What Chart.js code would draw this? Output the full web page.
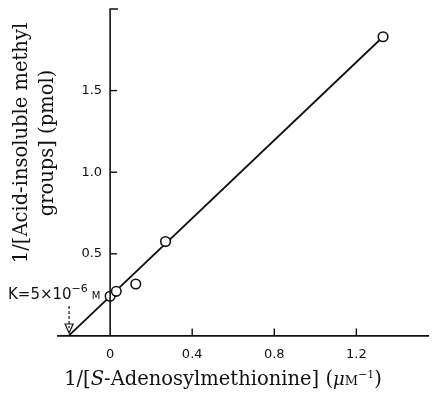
<!DOCTYPE html>
<html>
<head>
<meta charset="utf-8">
<script src="https://cdn.jsdelivr.net/npm/chart.js@4.4.1/dist/chart.umd.min.js"></script>
<style>
  html, body { margin: 0; padding: 0; background: #fff; }
  #wrap { width: 435px; height: 393px; }
</style>
</head>
<body>
<div id="wrap"><canvas id="plot"></canvas></div>
<script>
// 1/[S] (uM^-1) against 1/v (pmol^-1)
const samInv = [0, 0.03, 0.125, 0.27, 1.33];
const methylInv = [0.24, 0.27, 0.315, 0.575, 1.83];

// fitted line, crossing the x axis at -1/K
const fitX = [-0.2, 1.33];
const fitY = [0, 1.83];

const xTicks = [0, 0.4, 0.8, 1.2];
const xTickLabels = ['0', '0.4', '0.8', '1.2'];
const yTicks = [0.5, 1.0, 1.5];
const yTickLabels = ['0.5', '1.0', '1.5'];

const tickFont = '13px "DejaVu Sans"';
const serif = '"DejaVu Serif", "Liberation Serif", serif';

// draw a run of [text, font, dy] pieces starting at x
function drawRuns(ctx, runs, x, y) {
    runs.forEach(r => {
        ctx.font = r[1];
        ctx.fillText(r[0], x, y + (r[2] || 0));
        x += ctx.measureText(r[0]).width;
    });
}

function runsWidth(ctx, runs) {
    let w = 0;
    runs.forEach(r => {
        ctx.font = r[1];
        w += ctx.measureText(r[0]).width;
    });
    return w;
}

const axesPlugin = {
    id: 'axesPlugin',
    afterDraw(chart) {
        const ctx = chart.ctx;
        const xs = chart.scales.x;
        const ys = chart.scales.y;
        const x0 = xs.getPixelForValue(0);
        const yTop = ys.getPixelForValue(ys.max);
        const yBot = ys.getPixelForValue(0);

        ctx.save();
        ctx.strokeStyle = '#111';
        ctx.fillStyle = '#111';

        // y axis line at x = 0
        ctx.lineWidth = 1.6;
        ctx.beginPath();
        ctx.moveTo(x0, yBot);
        ctx.lineTo(x0, yTop);
        ctx.lineTo(x0 + 8, yTop);
        ctx.stroke();

        // inward ticks
        ctx.lineWidth = 1.4;
        yTicks.forEach(v => {
            const py = ys.getPixelForValue(v);
            ctx.beginPath();
            ctx.moveTo(x0, py);
            ctx.lineTo(x0 + 7, py);
            ctx.stroke();
        });
        xTicks.forEach(v => {
            if (v === 0) return;
            const px = xs.getPixelForValue(v);
            ctx.beginPath();
            ctx.moveTo(px, yBot);
            ctx.lineTo(px, yBot - 7);
            ctx.stroke();
        });

        // y tick labels
        ctx.font = tickFont;
        ctx.textAlign = 'right';
        ctx.textBaseline = 'middle';
        yTicks.forEach((v, i) => {
            ctx.fillText(yTickLabels[i], x0 - 8, ys.getPixelForValue(v));
        });

        // K annotation and arrow at -1/K
        ctx.textAlign = 'left';
        ctx.textBaseline = 'alphabetic';
        drawRuns(ctx, [
            ['K=5×10', '15px "DejaVu Sans"'],
            ['−6', '11px "DejaVu Sans"', -7],
            ['  ', '6px "DejaVu Sans"'],
            ['M', '10px "DejaVu Sans"']
        ], 8, 299);

        const ax = xs.getPixelForValue(fitX[0]);
        ctx.lineWidth = 1.2;
        ctx.setLineDash([3, 2]);
        ctx.beginPath();
        ctx.moveTo(ax, 306);
        ctx.lineTo(ax, 328);
        ctx.stroke();
        ctx.setLineDash([]);
        ctx.beginPath();
        ctx.moveTo(ax - 4, 324);
        ctx.lineTo(ax, 333);
        ctx.lineTo(ax + 4, 324);
        ctx.closePath();
        ctx.stroke();

        // x axis title
        const xRuns = [
            ['1/[', '19.5px ' + serif],
            ['S', 'italic 19.5px ' + serif],
            ['-Adenosylmethionine] (', '19.5px ' + serif],
            ['μ', 'italic 18px ' + serif],
            ['M', '13px ' + serif],
            ['−1', '11px ' + serif, -7],
            [')', '19.5px ' + serif]
        ];
        const xw = runsWidth(ctx, xRuns);
        drawRuns(ctx, xRuns, 223 - xw / 2, 385);

        // y axis title, two lines
        ctx.translate(0, 143);
        ctx.rotate(-Math.PI / 2);
        ctx.textAlign = 'center';
        ctx.textBaseline = 'middle';
        ctx.font = '19.5px ' + serif;
        ctx.fillText('1/[Acid-insoluble methyl', 0, 22);
        ctx.fillText('groups] (pmol)', 0, 48);
        ctx.restore();
    }
};

new Chart(document.getElementById('plot'), {
    type: 'scatter',
    data: {
        datasets: [{
            type: 'line',
            data: fitX.map((x, i) => ({ x: x, y: fitY[i] })),
            borderColor: '#111',
            borderWidth: 1.8,
            pointRadius: 0,
            fill: false,
            order: 2
        }, {
            data: samInv.map((x, i) => ({ x: x, y: methylInv[i] })),
            pointRadius: 4.8,
            pointBorderWidth: 1.6,
            pointBorderColor: '#111',
            pointBackgroundColor: '#fff',
            order: 1
        }]
    },
    options: {
        responsive: true,
        maintainAspectRatio: false,
        animation: false,
        layout: { padding: { left: 58, right: 0, top: 9, bottom: 20 } },
        plugins: {
            legend: { display: false },
            tooltip: { enabled: false }
        },
        scales: {
            x: {
                type: 'linear',
                min: -0.254,
                max: 1.552,
                afterBuildTicks: function (scale) {
                    scale.ticks = xTicks.map(v => ({ value: v }));
                },
                ticks: {
                    color: '#111',
                    font: { family: 'DejaVu Sans', size: 13 },
                    padding: 11,
                    maxRotation: 0,
                    callback: function (value) {
                        const i = xTicks.indexOf(value);
                        return i >= 0 ? xTickLabels[i] : '';
                    }
                },
                grid: { display: false, drawTicks: false },
                border: { display: true, color: '#111', width: 1.8 }
            },
            y: {
                type: 'linear',
                display: false,
                min: 0,
                max: 2.0
            }
        }
    },
    plugins: [axesPlugin]
});
</script>
</body>
</html>
